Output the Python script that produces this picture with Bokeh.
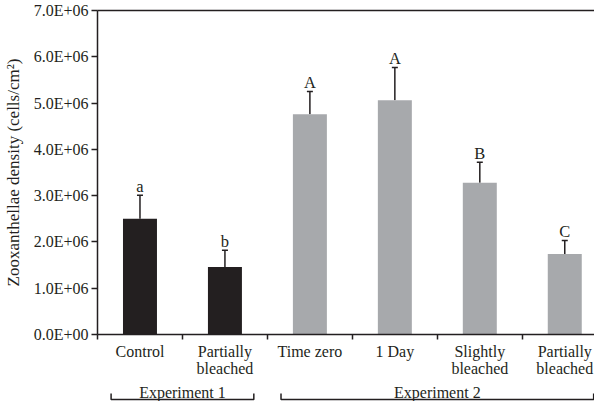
from bokeh.plotting import figure
from bokeh.models import Range1d, FixedTicker, Whisker, TeeHead, ColumnDataSource, LinearAxis
from bokeh.layouts import column
from bokeh.embed import file_html
from bokeh.resources import INLINE
from bokeh.core.properties import value

# ---- data ----
categories = ["Control", "Partially\nbleached", "Time zero", "1 Day",
              "Slightly\nbleached", "Partially\nbleached"]
experiment = [1, 1, 2, 2, 2, 2]
density = [2.50e6, 1.46e6, 4.76e6, 5.06e6, 3.28e6, 1.74e6]
std_err = [0.51e6, 0.36e6, 0.49e6, 0.71e6, 0.44e6, 0.29e6]
letters = ["a", "b", "A", "A", "B", "C"]
y_ticks = [0, 1000000, 2000000, 3000000, 4000000, 5000000, 6000000, 7000000]
y_tick_labels = ["0.0E+00", "1.0E+06", "2.0E+06", "3.0E+06",
                 "4.0E+06", "5.0E+06", "6.0E+06", "7.0E+06"]
experiment_names = {1: "Experiment 1", 2: "Experiment 2"}
y_title = "Zooxanthellae density (cells/cm\u00b2)"

# ---- style ----
FONT = "Liberation Serif"
DARK = "#231f20"
exp_colors = {1: "#231f20", 2: "#a7a9ac"}
W = 594
LEFT = 96
X_END = 5.85

n = len(categories)
centers = [i + 0.5 for i in range(n)]
src = ColumnDataSource(dict(
    x=centers,
    top=density,
    upper=[d + e for d, e in zip(density, std_err)],
    color=[exp_colors[g] for g in experiment],
    letter=letters,
))

p = figure(width=W, height=380, x_range=Range1d(0, X_END), y_range=Range1d(0, y_ticks[-1]),
           toolbar_location=None, output_backend="svg",
           min_border_left=LEFT, min_border_right=0, min_border_top=10, min_border_bottom=46)
p.outline_line_color = None
p.grid.visible = False
p.background_fill_color = "white"
p.border_fill_color = "white"

p.vbar(x="x", top="top", width=0.4, fill_color="color", line_color=None, source=src)
p.add_layout(Whisker(base="x", lower="top", upper="upper", source=src,
                     line_color=DARK, line_width=1.5, lower_head=None,
                     upper_head=TeeHead(size=6, line_color=DARK, line_width=1.5)))
p.text(x="x", y="upper", text="letter", text_align="center", text_baseline="alphabetic",
       y_offset=-9, text_font=value(FONT), text_font_size="16.5px", text_color=DARK, source=src)

# top frame line
top_axis = LinearAxis(ticker=FixedTicker(ticks=[]), major_tick_out=0, major_tick_in=0,
                      minor_tick_out=0, minor_tick_in=0, major_label_standoff=0,
                      major_label_text_font_size="0px", axis_line_color=DARK,
                      axis_line_width=1.5, major_tick_line_color=None, minor_tick_line_color=None)
p.add_layout(top_axis, "above")

# y axis
ya = p.left[0]
ya.ticker = FixedTicker(ticks=y_ticks)
ya.major_label_overrides = {t: l for t, l in zip(y_ticks, y_tick_labels)}
ya.axis_label = y_title
ya.axis_label_text_font = FONT
ya.axis_label_text_font_size = "17px"
ya.axis_label_text_font_style = "normal"
ya.axis_label_text_color = DARK
ya.axis_label_standoff = 8
ya.major_label_text_font = FONT
ya.major_label_text_font_size = "16px"
ya.major_label_text_color = DARK
ya.major_label_standoff = 3
ya.major_tick_out = 6
ya.major_tick_in = 0
ya.major_tick_line_width = 1.5
ya.major_tick_line_color = DARK
ya.minor_tick_line_color = None
ya.axis_line_width = 1.5
ya.axis_line_color = DARK

# x axis
xa = p.below[0]
xa.ticker = FixedTicker(ticks=centers, minor_ticks=list(range(n + 1)))
xa.major_label_overrides = {c: l for c, l in zip(centers, categories)}
xa.major_label_text_font = FONT
xa.major_label_text_font_size = "16px"
xa.major_label_text_color = DARK
xa.major_label_text_line_height = 1.05
xa.major_label_standoff = 3
xa.major_tick_out = 0
xa.major_tick_in = 0
xa.major_tick_line_color = None
xa.minor_tick_out = 5
xa.minor_tick_in = 0
xa.minor_tick_line_width = 1.5
xa.minor_tick_line_color = DARK
xa.axis_line_width = 1.5
xa.axis_line_color = DARK

# ---- experiment brackets below ----
H2 = 21
p2 = figure(width=W, height=H2, x_range=p.x_range, y_range=Range1d(0, H2),
            toolbar_location=None, output_backend="svg",
            x_axis_location=None, y_axis_location=None,
            min_border_left=LEFT, min_border_right=0, min_border_top=0, min_border_bottom=0)
p2.outline_line_color = None
p2.grid.visible = False

groups = sorted(set(experiment))
g_start = [experiment.index(g) for g in groups]
g_end = [n - experiment[::-1].index(g) for g in groups]
inset = 0.16
bx0 = [s + inset for s in g_start]
bx1 = [min(e - inset, X_END - 0.01) for e in g_end]
br_bot, br_top, txt_y = 2, 8, 9
p2.multi_line(xs=[[a, a, b, b] for a, b in zip(bx0, bx1)],
              ys=[[br_top, br_bot, br_bot, br_top] for _ in groups],
              line_color=DARK, line_width=1.5)
p2.text(x=[(s + e) / 2 for s, e in zip(g_start, g_end)], y=[txt_y] * len(groups),
        text=[experiment_names[g] for g in groups], text_align="center",
        text_baseline="alphabetic", text_font=value(FONT), text_font_size="16px",
        text_color=DARK)

layout = column(p, p2, spacing=0)
open("out.html", "w").write(file_html(layout, INLINE))
